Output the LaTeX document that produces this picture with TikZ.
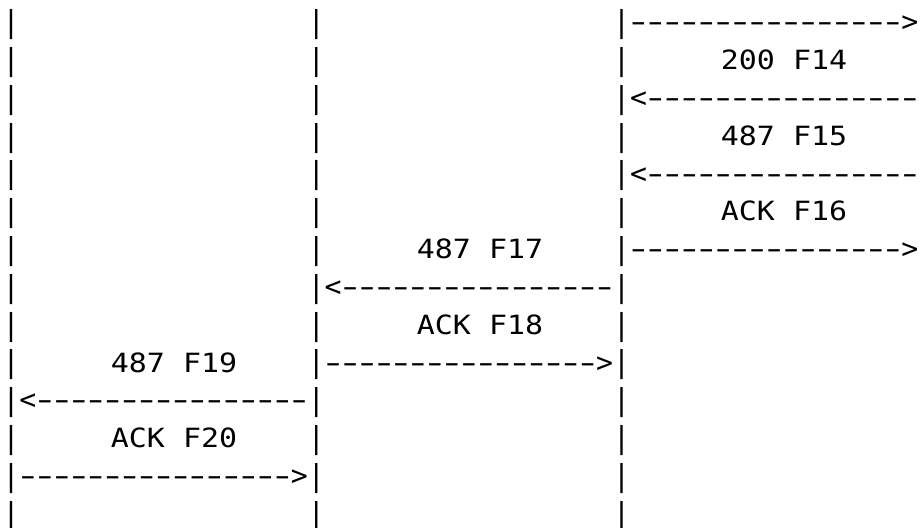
\documentclass[tikz,border=0pt]{standalone}
\usepackage{fontspec}
\usepackage{graphicx}
\setmonofont{DejaVu Sans Mono}
\newlength\cw
\setlength\cw{16.96pt}
\newcommand\sA{~~~~~~~~~~~~~~~~~}% 17 spaces
\newcommand\hy{\makebox[\cw][c]{\scalebox{1.6}[1]{-}}}
\newcommand\dA{\hy\hy\hy\hy\hy\hy\hy\hy\hy\hy\hy\hy\hy\hy\hy\hy}% 16 dashes
\newcommand\br{\makebox[\cw][c]{\raisebox{-0.8pt}{\scalebox{1}[1.07]{|}}}}
\newcommand\lab[1]{\scalebox{1.13}[1]{#1}}
\tikzset{
  asciirow/.style={anchor=base west, inner sep=0pt, outer sep=0pt, text=black,
    font=\ttfamily\fontsize{28.17pt}{37.8pt}\selectfont},
  msglabel/.style={anchor=base, inner sep=0pt, outer sep=0pt, text=black,
    font=\ttfamily\fontsize{26.5pt}{32pt}\selectfont}
}
\begin{document}
\begin{tikzpicture}[x=1pt,y=1pt]
\fill[white] (0,0) rectangle (922,-528);
\useasboundingbox (0,0) rectangle (922,-528);
% rows of the ASCII call flow (bars and arrows)
\node[asciirow] (row0)  at (2.5,-31.9)  {\br\sA\br\sA\br\dA>};
\node[asciirow] (row1)  at (2.5,-69.7)  {\br\sA\br\sA\br};
\node[asciirow] (row2)  at (2.5,-107.5) {\br\sA\br\sA\br<\dA};
\node[asciirow] (row3)  at (2.5,-145.3) {\br\sA\br\sA\br};
\node[asciirow] (row4)  at (2.5,-183.1) {\br\sA\br\sA\br<\dA};
\node[asciirow] (row5)  at (2.5,-220.9) {\br\sA\br\sA\br};
\node[asciirow] (row6)  at (2.5,-258.7) {\br\sA\br\sA\br\dA>};
\node[asciirow] (row7)  at (2.5,-296.5) {\br\sA\br<\dA\br};
\node[asciirow] (row8)  at (2.5,-334.3) {\br\sA\br\sA\br};
\node[asciirow] (row9)  at (2.5,-372.1) {\br\sA\br\dA>\br};
\node[asciirow] (row10) at (2.5,-409.9) {\br<\dA\br\sA\br};
\node[asciirow] (row11) at (2.5,-447.7) {\br\sA\br\sA\br};
\node[asciirow] (row12) at (2.5,-485.5) {\br\dA>\br\sA\br};
\node[asciirow] (row13) at (2.5,-523.3) {\br\sA\br\sA\br};
% message labels
\node[msglabel] (f14) at (784,-69.7)  {\lab{200 F14}};
\node[msglabel] (f15) at (784,-145.3) {\lab{487 F15}};
\node[msglabel] (f16) at (784,-220.9) {\lab{ACK F16}};
\node[msglabel] (f17) at (480,-258.7) {\lab{487 F17}};
\node[msglabel] (f18) at (480,-334.3) {\lab{ACK F18}};
\node[msglabel] (f19) at (174,-372.1) {\lab{487 F19}};
\node[msglabel] (f20) at (174,-447.7) {\lab{ACK F20}};
\end{tikzpicture}
\end{document}
